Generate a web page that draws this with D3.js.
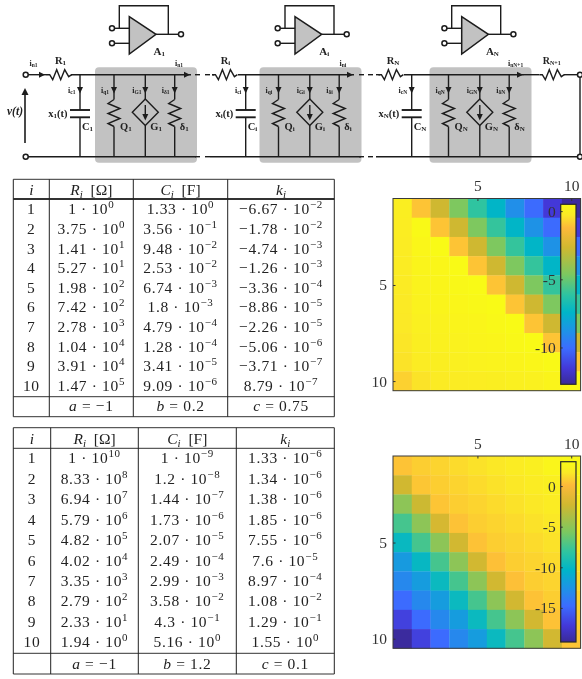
<!DOCTYPE html>
<html>
<head>
<meta charset="utf-8">
<script src="https://cdn.jsdelivr.net/npm/d3@7"></script>
<style>
  html, body { margin: 0; padding: 0; background: #fff; }
  svg { display: block; filter: blur(0.35px); }
  text { font-family: "Liberation Serif", serif; fill: #222; }
  .tick text { font-family: "Liberation Serif", serif; fill: #333; }
</style>
</head>
<body>
<svg id="chart" width="582" height="679"></svg>
<script>
// table 1
const t1Index = ["1","2","3","4","5","6","7","8","9","10"]
const t1R = ["1e0","3.75e0","1.41e1","5.27e1","1.98e2","7.42e2","2.78e3","1.04e4","3.91e4","1.47e5"]
const t1C = ["1.33e0","3.56e-1","9.48e-2","2.53e-2","6.74e-3","1.8e-3","4.79e-4","1.28e-4","3.41e-5","9.09e-6"]
const t1K = ["-6.67e-2","-1.78e-2","-4.74e-3","-1.26e-3","-3.36e-4","-8.86e-5","-2.26e-5","-5.06e-6","-3.71e-7","8.79e-7"]
const t1Params = [["a","−1"],["b","0.2"],["c","0.75"]]

// table 2
const t2R = ["1e10","8.33e8","6.94e7","5.79e6","4.82e5","4.02e4","3.35e3","2.79e2","2.33e1","1.94e0"]
const t2C = ["1e-9","1.2e-8","1.44e-7","1.73e-6","2.07e-5","2.49e-4","2.99e-3","3.58e-2","4.3e-1","5.16e0"]
const t2K = ["1.33e-6","1.34e-6","1.38e-6","1.85e-6","7.55e-6","7.6e-5","8.97e-4","1.08e-2","1.29e-1","1.55e0"]
const t2Params = [["a","−1"],["b","1.2"],["c","0.1"]]

// heatmap values (log10 scale of the colorbars)
const heat1 = [
  [-0.05,-1.0,-2.7,-4.6,-6.1,-7.4,-8.9,-10.1,-11.5,-12.6],
  [-0.1,0.4,-1.0,-2.7,-4.6,-6.0,-7.4,-8.8,-10.1,-11.5],
  [-0.15,0.3,0.45,-1.0,-2.7,-4.6,-6.0,-7.4,-8.8,-10.1],
  [-0.15,0.2,0.3,0.45,-1.0,-2.7,-4.6,-6.0,-7.4,-8.8],
  [-0.2,0.15,0.25,0.35,0.45,-1.0,-2.7,-4.6,-6.0,-7.4],
  [-0.25,0.1,0.2,0.3,0.35,0.45,-1.0,-2.7,-4.6,-6.0],
  [-0.3,0,0.1,0.2,0.25,0.35,0.45,-1.0,-2.7,-4.6],
  [-0.35,-0.05,0.05,0.1,0.2,0.25,0.35,0.45,-1.0,-2.7],
  [-0.4,-0.15,-0.05,0,0.1,0.15,0.2,0.3,0.4,-1.0],
  [-0.75,-0.4,-0.2,-0.15,-0.1,-0.05,0,0.05,0.2,0.35]
]
const heat2 = [
  [0.45,0.8,1.0,1.2,1.45,1.65,1.9,2.1,2.55,2.8],
  [-2.3,0.55,0.8,1.0,1.2,1.45,1.65,1.9,2.1,2.5],
  [-5.0,-2.5,0.5,0.8,1.0,1.2,1.45,1.65,1.9,2.1],
  [-7.4,-5.0,-2.0,0.4,0.8,1.0,1.2,1.45,1.65,1.9],
  [-9.9,-7.4,-5.0,-2.2,0.4,0.8,1.0,1.2,1.45,1.65],
  [-12.1,-10.0,-7.4,-5.0,-2.2,0.35,0.8,1.0,1.2,1.45],
  [-13.2,-12.0,-9.8,-7.4,-5.0,-2.2,0.35,0.8,1.0,1.2],
  [-14.8,-13.2,-12.0,-9.8,-7.4,-5.0,-2.2,0.4,0.8,1.0],
  [-16.8,-14.8,-13.2,-12.0,-9.8,-7.4,-5.0,-2.2,0.4,0.8],
  [-19.0,-16.8,-14.8,-13.2,-12.0,-9.8,-7.4,-5.0,-2.2,0.5]
]
const cells = d3.range(1, 11)
const cbTicks1 = [0, -5, -10]
const cbTicks2 = [0, -5, -10, -15]

// colormap positions are measured from the top of the colorbar
const cmapPos = [0, 0.06, 0.13, 0.24, 0.39, 0.5, 0.6, 0.71, 0.8, 0.91, 1]
const cmapCol = ["#f9fb15","#fbe926","#fdb93a","#d0b830","#7cc860","#2fc4a0","#00b5c8","#2090e8","#3c6cff","#4338d8","#3a2a98"]

// circuit stages
const stageNames = ["1", "i", "N"]
const capOffset = [0, 165.7, 331.7]
const boxOffset = [0, 164.5, 334.5]
const ampOffset = [0, 165.7, 332.4]

const svg = d3.select("svg#chart")

const grey = "#c2c2c2"
const ink = "#1c1c1c"
const yTop = 74.7
const yBot = 156.7

const circuit = svg.append("g").attr("id", "circuit")

function wire(x1, y1, x2, y2, w) {
  circuit.append("line").attr("x1", x1).attr("y1", y1).attr("x2", x2).attr("y2", y2)
    .attr("stroke", ink).attr("stroke-width", w || 1.4)
}
function dot(x, y) {
  circuit.append("circle").attr("cx", x).attr("cy", y).attr("r", 2.5)
    .attr("fill", "#fff").attr("stroke", ink).attr("stroke-width", 1.5)
}
function arrowRight(x, y) {
  circuit.append("path").attr("d", `M${x},${y-3}L${x+6},${y}L${x},${y+3}Z`).attr("fill", ink)
}
function arrowDown(x, y) {
  circuit.append("path").attr("d", `M${x-3},${y}L${x},${y+6.5}L${x+3},${y}Z`).attr("fill", ink)
}
const zig = d3.line()
function resistorH(x) {
  let pts = [[x,0],[x+3,0],[x+6,5],[x+10,-5],[x+14,5],[x+18,-5],[x+22,2],[x+25,0]]
  circuit.append("path").attr("d", zig(pts.map(p => [p[0], yTop + p[1]])))
    .attr("fill", "none").attr("stroke", ink).attr("stroke-width", 1.4)
}
function resistorV(x) {
  let y0 = 99.5
  let pts = [[0,0],[-6,4],[6,9],[-6,14],[6,19],[-6,24],[0,27]]
  circuit.append("path").attr("d", zig(pts.map(p => [x + p[0], y0 + p[1]])))
    .attr("fill", "none").attr("stroke", ink).attr("stroke-width", 1.4)
}
function label(x, y, main, sub, opts) {
  opts = opts || {}
  let t = circuit.append("text").attr("x", x).attr("y", y)
    .attr("text-anchor", opts.anchor || "start")
    .attr("font-weight", "bold").attr("font-size", opts.size || 10.5)
  t.append("tspan").text(main)
  t.append("tspan").attr("dy", 1).attr("font-size", opts.subSize || 7).text(sub)
  if (opts.after) t.append("tspan").attr("dy", -1).attr("font-size", opts.size || 10.5).text(opts.after)
}

// gray boxes go first so the wires sit on top
boxOffset.forEach(dx => {
  circuit.append("rect").attr("x", 95 + dx).attr("y", 67.3).attr("width", 102).attr("height", 95.4)
    .attr("rx", 4).attr("fill", grey)
})

// main rails with the dashed gaps between stages
dot(25.7, yTop); dot(25.7, yBot)
wire(28, yTop, 47, yTop); wire(71, yTop, 191, yTop)
wire(28, yBot, 196, yBot)
wire(212, yTop, 214, yTop); wire(238, yTop, 354, yTop)
wire(210, yBot, 361, yBot)
wire(376, yTop, 380, yTop); wire(404, yTop, 524, yTop)
wire(376, yBot, 577.5, yBot)
wire(524, yTop, 539, yTop); wire(564, yTop, 577.5, yTop)
wire(580, yTop, 580, yBot)
dot(580, yTop); dot(580, yBot)
// dashes
;[[195,200],[205,210],[359,364],[368,373]].forEach(d => {
  wire(d[0], yTop, d[1], yTop, 1.4)
  wire(d[0], yBot, d[1], yBot, 1.4)
})
arrowRight(39, yTop)
resistorH(539.3)
label(542.7, 64, "R", "N+1", {size: 10, subSize: 6})
label(508, 66, "i", "nN+1", {size: 8, subSize: 5.5})

stageNames.forEach((name, k) => {
  let cx = 80 + capOffset[k]
  let bx = boxOffset[k]
  let ax = ampOffset[k]

  // series resistor, capacitor
  resistorH(cx - 33.3)
  label(cx - 25, 64, "R", name)
  wire(cx, yTop, cx, 110); wire(cx, 117.3, cx, yBot)
  wire(cx - 10, 110, cx + 10, 110, 1.9); wire(cx - 10, 117.3, cx + 10, 117.3, 1.9)
  arrowDown(cx, 87)
  label(cx - 12.5, 117, "x", name, {anchor: "end", after: "(t)"})
  label(cx + 2, 130, "C", name)
  label(cx - 4.5, 92.5, "i", "c" + name, {size: 8, subSize: 5.5, anchor: "end"})

  // branches inside the box
  let q = 114 + bx, g = 145.3 + bx, s = 174.7 + bx
  ;[q, s].forEach(x => {
    wire(x, yTop, x, 99.5); wire(x, 126.5, x, yBot)
    resistorV(x); arrowDown(x, 87)
  })
  wire(g, yTop, g, 99); wire(g, 125.6, g, yBot)
  arrowDown(g, 87)
  circuit.append("path").attr("d", `M${g-13},112.3L${g},99L${g+13},112.3L${g},125.6Z`)
    .attr("fill", "none").attr("stroke", ink).attr("stroke-width", 1.4)
  wire(g, 105, g, 116)
  arrowDown(g, 114)
  label(q + 6, 130, "Q", name)
  label(g + 5, 130, "G", name)
  label(s + 5, 130, "δ", name)
  label(q - 13, 92.5, "i", "q" + name, {size: 8, subSize: 5.5})
  label(g - 13, 92.5, "i", "G" + name, {size: 8, subSize: 5.5})
  label(s - 13, 92.5, "i", "δ" + name, {size: 8, subSize: 5.5})
  arrowRight(184 + bx - (k ? 1.5 : 0), yTop)
  if (k < 2) label(175 + bx, 66, "i", "n" + name, {size: 8, subSize: 5.5})

  // op amp above the stage
  circuit.append("path")
    .attr("d", `M${129.3+ax},16.7L${129.3+ax},54L${156+ax},34.3Z`)
    .attr("fill", grey).attr("stroke", ink).attr("stroke-width", 1.5)
  wire(112 + ax, 28.3, 129.3 + ax, 28.3)
  wire(112 + ax, 43.3, 129.3 + ax, 43.3)
  circuit.append("path")
    .attr("d", `M${119.3+ax},28.3V5.7H${168.3+ax}V34.3`)
    .attr("fill", "none").attr("stroke", ink).attr("stroke-width", 1.4)
  wire(156 + ax, 34.3, 179 + ax, 34.3)
  dot(112 + ax, 28.3); dot(112 + ax, 43.3); dot(181 + ax, 34.3)
  label(153.5 + ax, 55, "A", name, {size: 11})
})
label(29.5, 66, "i", "n1", {size: 8, subSize: 5.5})

// input voltage
circuit.append("line").attr("x1", 25).attr("y1", 143).attr("x2", 25).attr("y2", 94)
  .attr("stroke", ink).attr("stroke-width", 1.6)
circuit.append("path").attr("d", "M21.5,95L25,88L28.5,95Z").attr("fill", ink)
circuit.append("text").attr("x", 7).attr("y", 115).attr("font-size", 11.5)
  .attr("font-style", "italic").attr("font-weight", "bold").text("v(t)")

// superscript number like 3.75 · 10^2
function sciCell(g, x, y, s) {
  let parts = s.split("e")
  let t = g.append("text").attr("x", x).attr("y", y).attr("text-anchor", "middle")
    .attr("font-size", 15.5).style("letter-spacing", "0.65px")
  t.append("tspan").text(parts[0].replace("-", "−") + " · 10")
  t.append("tspan").attr("dy", -6).attr("font-size", 11).text(parts[1].replace("-", "−"))
}

function drawTable(o) {
  let g = svg.append("g")
  let y = d3.scaleLinear().domain([1, 10]).range(o.rowY)
  let cols = o.cols
  let mid = i => (cols[i] + cols[i + 1]) / 2

  // rules
  ;[o.top, o.head, o.foot, o.bottom].forEach((yy, i) => {
    g.append("line").attr("x1", cols[0]).attr("x2", cols[4]).attr("y1", yy).attr("y2", yy)
      .attr("stroke", "#333").attr("stroke-width", i === 1 ? o.headW : 1)
  })
  cols.forEach(xx => {
    g.append("line").attr("x1", xx).attr("x2", xx).attr("y1", o.top).attr("y2", o.bottom)
      .attr("stroke", "#222").attr("stroke-width", 1)
  })

  // header
  let head = (i, main, unit) => {
    let t = g.append("text").attr("x", mid(i)).attr("y", o.headY).attr("text-anchor", "middle")
      .attr("font-size", 15.5).attr("xml:space", "preserve")
    t.append("tspan").attr("font-style", "italic").text(main)
    if (main !== "i") {
      t.append("tspan").attr("font-style", "italic").attr("dy", 2.5).attr("font-size", 11).text("i")
      if (unit) t.append("tspan").attr("dy", -2.5).text("  [" + unit + "]")
    }
  }
  head(0, "i"); head(1, "R", "Ω"); head(2, "C", "F"); head(3, "k")

  // rows
  t1Index.forEach((d, i) => {
    g.append("text").attr("x", mid(0)).attr("y", y(i + 1)).attr("text-anchor", "middle")
      .attr("font-size", 15.5).style("letter-spacing", "0.65px").text(d)
    sciCell(g, mid(1), y(i + 1), o.r[i])
    sciCell(g, mid(2), y(i + 1), o.c[i])
    sciCell(g, mid(3), y(i + 1), o.k[i])
  })

  // parameters
  o.params.forEach((p, i) => {
    let t = g.append("text").attr("x", mid(i + 1)).attr("y", o.paramY).attr("text-anchor", "middle")
      .attr("font-size", 15.5).style("letter-spacing", "0.65px")
    t.append("tspan").attr("font-style", "italic").text(p[0])
    t.append("tspan").text(" = " + p[1])
  })
}

drawTable({
  cols: [13.3, 49.3, 133.3, 227.7, 334.3], top: 179.3, head: 199, foot: 396.7, bottom: 416.7, headW: 2,
  headY: 195, rowY: [214.3, 391], paramY: 411, r: t1R, c: t1C, k: t1K, params: t1Params
})
drawTable({
  cols: [13.3, 50.7, 138.3, 236.3, 334.3], top: 427.7, head: 448.3, foot: 653.3, bottom: 674, headW: 1,
  headY: 444, rowY: [463.3, 647.3], paramY: 668.5, r: t2R, c: t2C, k: t2K, params: t2Params
})

function drawHeat(o) {
  let g = svg.append("g")
  let x = d3.scaleBand().domain(cells).range([393, 580.6])
  let y = d3.scaleBand().domain(cells).range(o.yRange)
  let cb = d3.scaleLinear().domain(o.cbDomain).range(o.cbRange)
  let tOf = d3.scaleLinear().domain(o.cbDomain).range([0, 1])
  let cmap = d3.scaleLinear().domain(cmapPos).range(cmapCol).clamp(true)

  o.values.forEach((row, r) => row.forEach((v, c) => {
    g.append("rect").attr("x", x(c + 1)).attr("y", y(r + 1))
      .attr("width", x.bandwidth() + 0.3).attr("height", y.bandwidth() + 0.3)
      .attr("fill", cmap(tOf(v)))
  }))

  // box
  g.append("rect").attr("x", 393).attr("y", o.yRange[0]).attr("width", 187.6)
    .attr("height", o.yRange[1] - o.yRange[0]).attr("fill", "none").attr("stroke", "#3a3a3a")

  // axes: ticks point inward, matlab style
  let shift = b => d => b(d) + b.bandwidth() / 2
  let topAxis = d3.axisTop(d3.scaleOrdinal().domain([5, 10]).range([shift(x)(5), shift(x)(10)]))
    .tickValues([5, 10]).tickSize(-2.5).tickPadding(7.5)
  g.append("g").attr("transform", `translate(0,${o.yRange[0]})`).call(topAxis)
  let leftAxis = d3.axisLeft(d3.scaleOrdinal().domain([5, 10]).range([shift(y)(5), shift(y)(10)]))
    .tickValues([5, 10]).tickSize(-2.5).tickPadding(6)
  g.append("g").attr("transform", "translate(393,0)").call(leftAxis)

  // colorbar
  let gradId = "grad" + o.id
  let grad = svg.append("defs").append("linearGradient").attr("id", gradId)
    .attr("x1", 0).attr("x2", 0).attr("y1", 0).attr("y2", 1)
  cmapPos.forEach((p, i) => grad.append("stop").attr("offset", p).attr("stop-color", cmapCol[i]))
  g.append("rect").attr("x", 560.7).attr("y", o.cbRange[0]).attr("width", 15.3)
    .attr("height", o.cbRange[1] - o.cbRange[0]).attr("fill", `url(#${gradId})`)
    .attr("stroke", "#2a2a2a").attr("stroke-width", 1.2)
  let cbAxis = d3.axisLeft(cb).tickValues(o.cbTicks).tickSize(-2).tickPadding(5).tickFormat(d => d)
  let cbG = g.append("g").attr("transform", "translate(560.7,0)").call(cbAxis)
  cbG.select(".domain").remove()

  g.selectAll(".domain").attr("stroke", "none")
  g.selectAll(".tick text").attr("font-size", 15.5)
  g.selectAll(".tick line").attr("stroke", "#333")
}

drawHeat({
  id: 1, values: heat1, yRange: [198.5, 390.7], cbDomain: [0.5, -12.7], cbRange: [204.3, 384.3], cbTicks: cbTicks1
})
drawHeat({
  id: 2, values: heat2, yRange: [456, 648.3], cbDomain: [3, -19.2], cbRange: [461.7, 642], cbTicks: cbTicks2
})
</script>
</body>
</html>
